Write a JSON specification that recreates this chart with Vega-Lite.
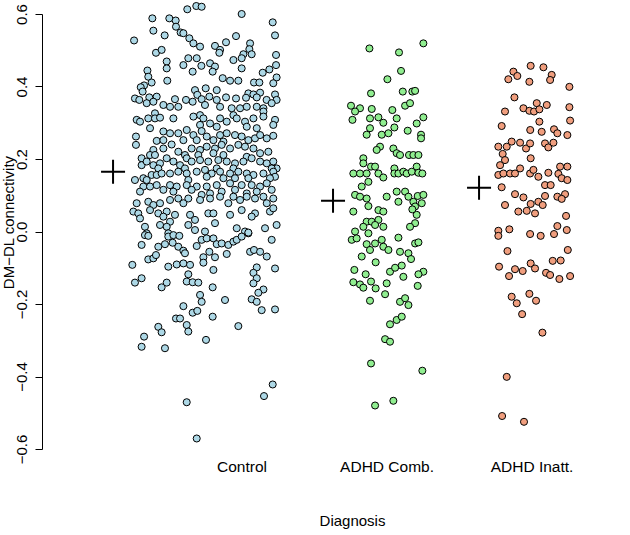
{
"$schema": "https://vega.github.io/schema/vega-lite/v6.json",
"width": 588,
"height": 435,
"autosize": {"type": "none"},
"padding": {"left": 42, "top": 14, "right": 0, "bottom": 86},
"config": {"view": {"stroke": null}, "font": "Liberation Sans"},
"datasets": {
"means": [
{"g": "Control", "x": 0.114, "y": 0.165},
{"g": "ADHD Comb.", "x": 1.631, "y": 0.085},
{"g": "ADHD Inatt.", "x": 2.638, "y": 0.121}
],
"pts": [
{"g":"Control","x":0.626,"y":0.613},{"g":"Control","x":0.688,"y":0.622},{"g":"Control","x":0.725,"y":0.620},{"g":"Control","x":1.001,"y":0.600},{"g":"Control","x":0.385,"y":0.588},{"g":"Control","x":0.502,"y":0.588},{"g":"Control","x":0.546,"y":0.582},{"g":"Control","x":1.215,"y":0.577},{"g":"Control","x":0.392,"y":0.554},{"g":"Control","x":0.548,"y":0.565},
{"g":"Control","x":0.580,"y":0.549},{"g":"Control","x":0.599,"y":0.547},{"g":"Control","x":0.470,"y":0.541},{"g":"Control","x":0.640,"y":0.533},{"g":"Control","x":0.962,"y":0.539},{"g":"Control","x":1.231,"y":0.541},{"g":"Control","x":0.259,"y":0.527},{"g":"Control","x":0.668,"y":0.519},{"g":"Control","x":0.714,"y":0.510},{"g":"Control","x":0.817,"y":0.512},
{"g":"Control","x":0.893,"y":0.522},{"g":"Control","x":1.059,"y":0.519},{"g":"Control","x":0.852,"y":0.501},{"g":"Control","x":0.847,"y":0.493},{"g":"Control","x":1.054,"y":0.503},{"g":"Control","x":0.410,"y":0.493},{"g":"Control","x":0.449,"y":0.501},{"g":"Control","x":1.013,"y":0.489},{"g":"Control","x":1.070,"y":0.489},{"g":"Control","x":1.238,"y":0.487},
{"g":"Control","x":0.484,"y":0.469},{"g":"Control","x":0.633,"y":0.478},{"g":"Control","x":0.691,"y":0.478},{"g":"Control","x":0.944,"y":0.473},{"g":"Control","x":1.001,"y":0.478},{"g":"Control","x":0.783,"y":0.464},{"g":"Control","x":0.817,"y":0.455},{"g":"Control","x":0.599,"y":0.459},{"g":"Control","x":1.238,"y":0.459},{"g":"Control","x":0.484,"y":0.450},
{"g":"Control","x":0.351,"y":0.444},{"g":"Control","x":0.723,"y":0.457},{"g":"Control","x":1.001,"y":0.450},{"g":"Control","x":1.192,"y":0.447},{"g":"Control","x":1.146,"y":0.438},{"g":"Control","x":0.663,"y":0.441},{"g":"Control","x":0.801,"y":0.441},{"g":"Control","x":0.357,"y":0.427},{"g":"Control","x":1.242,"y":0.425},{"g":"Control","x":1.219,"y":0.409},
{"g":"Control","x":0.488,"y":0.416},{"g":"Control","x":0.870,"y":0.423},{"g":"Control","x":0.921,"y":0.416},{"g":"Control","x":0.978,"y":0.416},{"g":"Control","x":1.086,"y":0.411},{"g":"Control","x":1.123,"y":0.411},{"g":"Control","x":0.328,"y":0.403},{"g":"Control","x":0.380,"y":0.411},{"g":"Control","x":0.305,"y":0.398},{"g":"Control","x":0.318,"y":0.386},
{"g":"Control","x":0.753,"y":0.395},{"g":"Control","x":0.679,"y":0.390},{"g":"Control","x":0.829,"y":0.390},{"g":"Control","x":1.047,"y":0.381},{"g":"Control","x":1.082,"y":0.378},{"g":"Control","x":1.128,"y":0.383},{"g":"Control","x":1.231,"y":0.378},{"g":"Control","x":0.265,"y":0.367},{"g":"Control","x":0.295,"y":0.363},{"g":"Control","x":0.364,"y":0.370},
{"g":"Control","x":0.415,"y":0.372},{"g":"Control","x":0.541,"y":0.365},{"g":"Control","x":0.617,"y":0.363},{"g":"Control","x":0.695,"y":0.377},{"g":"Control","x":0.778,"y":0.372},{"g":"Control","x":0.829,"y":0.363},{"g":"Control","x":0.893,"y":0.370},{"g":"Control","x":0.962,"y":0.367},{"g":"Control","x":1.031,"y":0.369},{"g":"Control","x":1.105,"y":0.370},
{"g":"Control","x":1.173,"y":0.363},{"g":"Control","x":1.242,"y":0.363},{"g":"Control","x":0.346,"y":0.354},{"g":"Control","x":0.392,"y":0.358},{"g":"Control","x":0.663,"y":0.358},{"g":"Control","x":0.725,"y":0.365},{"g":"Control","x":0.461,"y":0.349},{"g":"Control","x":0.507,"y":0.344},{"g":"Control","x":0.564,"y":0.344},{"g":"Control","x":0.748,"y":0.349},
{"g":"Control","x":0.852,"y":0.344},{"g":"Control","x":0.932,"y":0.340},{"g":"Control","x":0.990,"y":0.340},{"g":"Control","x":1.036,"y":0.344},{"g":"Control","x":1.105,"y":0.344},{"g":"Control","x":1.151,"y":0.340},{"g":"Control","x":1.208,"y":0.354},{"g":"Control","x":0.403,"y":0.326},{"g":"Control","x":0.714,"y":0.321},{"g":"Control","x":0.944,"y":0.321},
{"g":"Control","x":1.151,"y":0.331},
{"g":"Control","x":0.277,"y":0.308},{"g":"Control","x":0.300,"y":0.303},{"g":"Control","x":0.357,"y":0.312},{"g":"Control","x":0.403,"y":0.312},{"g":"Control","x":0.438,"y":0.314},{"g":"Control","x":0.530,"y":0.312},{"g":"Control","x":0.668,"y":0.317},{"g":"Control","x":0.737,"y":0.312},{"g":"Control","x":0.783,"y":0.298},{"g":"Control","x":0.852,"y":0.312},
{"g":"Control","x":0.898,"y":0.303},{"g":"Control","x":0.967,"y":0.312},{"g":"Control","x":1.024,"y":0.303},{"g":"Control","x":1.082,"y":0.312},{"g":"Control","x":1.151,"y":0.317},{"g":"Control","x":1.231,"y":0.308},{"g":"Control","x":1.219,"y":0.294},{"g":"Control","x":0.369,"y":0.285},{"g":"Control","x":0.714,"y":0.294},{"g":"Control","x":0.829,"y":0.289},
{"g":"Control","x":1.105,"y":0.285},{"g":"Control","x":1.036,"y":0.289},{"g":"Control","x":0.272,"y":0.262},{"g":"Control","x":0.272,"y":0.239},{"g":"Control","x":0.415,"y":0.250},{"g":"Control","x":0.461,"y":0.276},{"g":"Control","x":0.507,"y":0.271},{"g":"Control","x":0.564,"y":0.271},{"g":"Control","x":0.622,"y":0.280},{"g":"Control","x":0.668,"y":0.266},
{"g":"Control","x":0.725,"y":0.277},{"g":"Control","x":0.760,"y":0.262},{"g":"Control","x":0.806,"y":0.252},{"g":"Control","x":0.852,"y":0.266},{"g":"Control","x":0.898,"y":0.271},{"g":"Control","x":0.955,"y":0.266},{"g":"Control","x":1.001,"y":0.262},{"g":"Control","x":1.047,"y":0.252},{"g":"Control","x":1.093,"y":0.257},{"g":"Control","x":1.128,"y":0.266},
{"g":"Control","x":1.174,"y":0.257},{"g":"Control","x":1.219,"y":0.264},{"g":"Control","x":0.461,"y":0.252},{"g":"Control","x":0.599,"y":0.252},{"g":"Control","x":0.691,"y":0.252},{"g":"Control","x":0.875,"y":0.248},{"g":"Control","x":0.392,"y":0.225},{"g":"Control","x":0.461,"y":0.229},{"g":"Control","x":0.518,"y":0.240},{"g":"Control","x":0.564,"y":0.220},
{"g":"Control","x":0.610,"y":0.211},{"g":"Control","x":0.656,"y":0.229},{"g":"Control","x":0.714,"y":0.225},{"g":"Control","x":0.760,"y":0.234},{"g":"Control","x":0.817,"y":0.229},{"g":"Control","x":0.863,"y":0.239},{"g":"Control","x":0.921,"y":0.229},{"g":"Control","x":0.978,"y":0.239},{"g":"Control","x":1.024,"y":0.234},{"g":"Control","x":1.082,"y":0.229},
{"g":"Control","x":1.128,"y":0.216},{"g":"Control","x":1.185,"y":0.220},{"g":"Control","x":0.369,"y":0.211},{"g":"Control","x":0.403,"y":0.211},{"g":"Control","x":0.484,"y":0.202},{"g":"Control","x":0.622,"y":0.202},{"g":"Control","x":0.702,"y":0.211},{"g":"Control","x":0.806,"y":0.216},{"g":"Control","x":0.875,"y":0.211},{"g":"Control","x":1.036,"y":0.206},
{"g":"Control","x":0.311,"y":0.202},{"g":"Control","x":0.311,"y":0.183},{"g":"Control","x":0.346,"y":0.193},{"g":"Control","x":0.392,"y":0.183},{"g":"Control","x":0.438,"y":0.188},{"g":"Control","x":0.530,"y":0.193},{"g":"Control","x":0.576,"y":0.183},{"g":"Control","x":0.656,"y":0.193},{"g":"Control","x":0.714,"y":0.197},{"g":"Control","x":0.771,"y":0.193},
{"g":"Control","x":0.840,"y":0.197},{"g":"Control","x":0.898,"y":0.193},{"g":"Control","x":0.955,"y":0.188},{"g":"Control","x":1.013,"y":0.193},{"g":"Control","x":1.070,"y":0.202},{"g":"Control","x":1.128,"y":0.193},{"g":"Control","x":1.174,"y":0.188},{"g":"Control","x":1.219,"y":0.193},{"g":"Control","x":1.242,"y":0.174},{"g":"Control","x":0.426,"y":0.174},
{"g":"Control","x":0.610,"y":0.174},{"g":"Control","x":0.829,"y":0.174},{"g":"Control","x":0.944,"y":0.174},{"g":"Control","x":1.208,"y":0.174},{"g":"Control","x":0.265,"y":0.142},{"g":"Control","x":0.323,"y":0.147},{"g":"Control","x":0.380,"y":0.156},{"g":"Control","x":0.415,"y":0.156},{"g":"Control","x":0.449,"y":0.160},{"g":"Control","x":0.507,"y":0.160},
{"g":"Control","x":0.564,"y":0.165},{"g":"Control","x":0.622,"y":0.160},{"g":"Control","x":0.691,"y":0.165},{"g":"Control","x":0.748,"y":0.170},{"g":"Control","x":0.794,"y":0.160},{"g":"Control","x":0.852,"y":0.165},{"g":"Control","x":0.921,"y":0.160},{"g":"Control","x":0.978,"y":0.165},{"g":"Control","x":1.036,"y":0.160},{"g":"Control","x":1.082,"y":0.156},
{"g":"Control","x":1.151,"y":0.160},{"g":"Control","x":1.219,"y":0.165},{"g":"Control","x":1.231,"y":0.151},{"g":"Control","x":0.346,"y":0.142},{"g":"Control","x":0.633,"y":0.142},{"g":"Control","x":0.760,"y":0.151},{"g":"Control","x":0.875,"y":0.147},{"g":"Control","x":0.955,"y":0.147},{"g":"Control","x":1.047,"y":0.147},{"g":"Control","x":1.196,"y":0.147},
{"g":"Control","x":0.323,"y":0.124},{"g":"Control","x":0.369,"y":0.124},{"g":"Control","x":0.415,"y":0.128},{"g":"Control","x":0.507,"y":0.128},{"g":"Control","x":0.553,"y":0.124},{"g":"Control","x":0.622,"y":0.128},{"g":"Control","x":0.691,"y":0.124},{"g":"Control","x":0.760,"y":0.124},{"g":"Control","x":0.829,"y":0.128},{"g":"Control","x":0.921,"y":0.133},
{"g":"Control","x":1.001,"y":0.128},{"g":"Control","x":1.070,"y":0.128},{"g":"Control","x":1.128,"y":0.124},{"g":"Control","x":1.174,"y":0.133},{"g":"Control","x":0.300,"y":0.110},{"g":"Control","x":0.461,"y":0.115},{"g":"Control","x":0.530,"y":0.110},{"g":"Control","x":0.656,"y":0.115},{"g":"Control","x":0.725,"y":0.101},{"g":"Control","x":0.783,"y":0.105},
{"g":"Control","x":0.863,"y":0.110},{"g":"Control","x":0.955,"y":0.115},{"g":"Control","x":1.036,"y":0.105},{"g":"Control","x":1.105,"y":0.110},{"g":"Control","x":1.208,"y":0.115},{"g":"Control","x":0.277,"y":0.078},{"g":"Control","x":0.357,"y":0.082},{"g":"Control","x":0.392,"y":0.073},{"g":"Control","x":0.507,"y":0.087},{"g":"Control","x":0.564,"y":0.091},
{"g":"Control","x":0.633,"y":0.091},{"g":"Control","x":0.714,"y":0.087},{"g":"Control","x":0.783,"y":0.091},{"g":"Control","x":0.852,"y":0.096},{"g":"Control","x":0.944,"y":0.096},{"g":"Control","x":0.990,"y":0.087},{"g":"Control","x":1.036,"y":0.096},{"g":"Control","x":1.093,"y":0.091},{"g":"Control","x":1.151,"y":0.096},{"g":"Control","x":1.219,"y":0.091},
{"g":"Control","x":1.174,"y":0.078},{"g":"Control","x":0.438,"y":0.078},{"g":"Control","x":0.599,"y":0.078},{"g":"Control","x":0.909,"y":0.078},{"g":"Control","x":0.254,"y":0.055},{"g":"Control","x":0.288,"y":0.050},{"g":"Control","x":0.369,"y":0.059},{"g":"Control","x":0.426,"y":0.050},{"g":"Control","x":0.484,"y":0.055},{"g":"Control","x":0.541,"y":0.046},
{"g":"Control","x":0.645,"y":0.046},{"g":"Control","x":0.771,"y":0.050},{"g":"Control","x":0.806,"y":0.050},{"g":"Control","x":0.921,"y":0.046},{"g":"Control","x":1.001,"y":0.059},{"g":"Control","x":1.093,"y":0.050},{"g":"Control","x":1.196,"y":0.055},{"g":"Control","x":1.219,"y":0.064},{"g":"Control","x":0.300,"y":0.036},{"g":"Control","x":0.461,"y":0.041},
{"g":"Control","x":0.507,"y":0.027},{"g":"Control","x":0.679,"y":0.032},{"g":"Control","x":0.817,"y":0.023},{"g":"Control","x":1.070,"y":0.041},{"g":"Control","x":0.334,"y":0.013},{"g":"Control","x":0.438,"y":0.018},{"g":"Control","x":0.484,"y":0.013},{"g":"Control","x":0.633,"y":0.018},{"g":"Control","x":0.679,"y":0.004},{"g":"Control","x":0.748,"y":0.000},
{"g":"Control","x":0.967,"y":0.009},{"g":"Control","x":1.024,"y":0.000},{"g":"Control","x":1.047,"y":-0.005},{"g":"Control","x":1.162,"y":0.009},{"g":"Control","x":1.242,"y":0.018},{"g":"Control","x":0.346,"y":-0.005},{"g":"Control","x":0.495,"y":-0.005},
{"g":"Control","x":0.334,"y":-0.010},{"g":"Control","x":0.357,"y":-0.012},{"g":"Control","x":0.495,"y":-0.014},{"g":"Control","x":0.530,"y":-0.010},{"g":"Control","x":0.571,"y":-0.012},{"g":"Control","x":0.311,"y":-0.037},{"g":"Control","x":0.426,"y":-0.042},{"g":"Control","x":0.472,"y":-0.035},{"g":"Control","x":0.525,"y":-0.031},{"g":"Control","x":0.564,"y":-0.042},
{"g":"Control","x":0.599,"y":-0.053},{"g":"Control","x":0.610,"y":-0.060},{"g":"Control","x":0.691,"y":-0.040},{"g":"Control","x":0.725,"y":-0.023},{"g":"Control","x":0.760,"y":-0.019},{"g":"Control","x":0.806,"y":-0.019},{"g":"Control","x":0.829,"y":-0.035},{"g":"Control","x":0.863,"y":-0.033},{"g":"Control","x":0.909,"y":-0.037},{"g":"Control","x":0.944,"y":-0.028},
{"g":"Control","x":0.967,"y":-0.023},{"g":"Control","x":1.001,"y":-0.014},{"g":"Control","x":1.047,"y":-0.003},{"g":"Control","x":1.208,"y":-0.023},{"g":"Control","x":0.357,"y":-0.077},{"g":"Control","x":0.392,"y":-0.074},{"g":"Control","x":0.410,"y":-0.065},{"g":"Control","x":0.737,"y":-0.071},{"g":"Control","x":0.737,"y":-0.086},{"g":"Control","x":0.778,"y":-0.056},
{"g":"Control","x":0.817,"y":-0.071},{"g":"Control","x":0.898,"y":-0.062},{"g":"Control","x":1.059,"y":-0.056},{"g":"Control","x":1.086,"y":-0.051},{"g":"Control","x":1.128,"y":-0.056},{"g":"Control","x":1.174,"y":-0.069},{"g":"Control","x":0.247,"y":-0.092},{"g":"Control","x":0.495,"y":-0.097},{"g":"Control","x":0.553,"y":-0.091},{"g":"Control","x":0.599,"y":-0.088},
{"g":"Control","x":0.645,"y":-0.092},{"g":"Control","x":0.806,"y":-0.106},{"g":"Control","x":1.105,"y":-0.099},{"g":"Control","x":1.082,"y":-0.114},{"g":"Control","x":1.105,"y":-0.129},{"g":"Control","x":1.082,"y":-0.143},{"g":"Control","x":1.231,"y":-0.102},{"g":"Control","x":0.265,"y":-0.141},{"g":"Control","x":0.311,"y":-0.129},{"g":"Control","x":0.449,"y":-0.154},
{"g":"Control","x":0.484,"y":-0.141},{"g":"Control","x":0.622,"y":-0.138},{"g":"Control","x":0.663,"y":-0.140},{"g":"Control","x":0.702,"y":-0.141},{"g":"Control","x":0.633,"y":-0.118},{"g":"Control","x":0.801,"y":-0.154},{"g":"Control","x":1.151,"y":-0.160},{"g":"Control","x":1.116,"y":-0.169},{"g":"Control","x":0.714,"y":-0.175},{"g":"Control","x":0.725,"y":-0.194},
{"g":"Control","x":0.599,"y":-0.206},{"g":"Control","x":0.886,"y":-0.189},{"g":"Control","x":1.070,"y":-0.187},{"g":"Control","x":1.105,"y":-0.194},{"g":"Control","x":1.139,"y":-0.217},{"g":"Control","x":1.231,"y":-0.215},{"g":"Control","x":0.663,"y":-0.224},{"g":"Control","x":0.695,"y":-0.219},{"g":"Control","x":0.548,"y":-0.240},{"g":"Control","x":0.576,"y":-0.240},
{"g":"Control","x":0.801,"y":-0.235},{"g":"Control","x":0.622,"y":-0.258},{"g":"Control","x":0.633,"y":-0.276},{"g":"Control","x":0.426,"y":-0.263},{"g":"Control","x":0.449,"y":-0.278},{"g":"Control","x":0.978,"y":-0.261},{"g":"Control","x":0.328,"y":-0.290},{"g":"Control","x":0.311,"y":-0.318},{"g":"Control","x":0.755,"y":-0.299},{"g":"Control","x":0.472,"y":-0.322},
{"g":"Control","x":1.215,"y":-0.422},{"g":"Control","x":1.155,"y":-0.454},{"g":"Control","x":0.622,"y":-0.471},{"g":"Control","x":0.691,"y":-0.571},
{"g":"ADHD Comb.","x":1.882,"y":0.505},{"g":"ADHD Comb.","x":2.254,"y":0.519},{"g":"ADHD Comb.","x":2.086,"y":0.494},{"g":"ADHD Comb.","x":2.100,"y":0.443},{"g":"ADHD Comb.","x":2.006,"y":0.420},{"g":"ADHD Comb.","x":1.893,"y":0.381},{"g":"ADHD Comb.","x":2.112,"y":0.386},{"g":"ADHD Comb.","x":2.178,"y":0.386},{"g":"ADHD Comb.","x":2.197,"y":0.388},{"g":"ADHD Comb.","x":1.755,"y":0.347},
{"g":"ADHD Comb.","x":1.817,"y":0.340},{"g":"ADHD Comb.","x":1.783,"y":0.331},{"g":"ADHD Comb.","x":1.765,"y":0.308},{"g":"ADHD Comb.","x":1.898,"y":0.338},{"g":"ADHD Comb.","x":2.040,"y":0.335},{"g":"ADHD Comb.","x":2.128,"y":0.347},{"g":"ADHD Comb.","x":2.162,"y":0.354},{"g":"ADHD Comb.","x":1.886,"y":0.312},{"g":"ADHD Comb.","x":1.944,"y":0.315},{"g":"ADHD Comb.","x":1.978,"y":0.300},
{"g":"ADHD Comb.","x":2.070,"y":0.312},{"g":"ADHD Comb.","x":2.254,"y":0.315},{"g":"ADHD Comb.","x":2.208,"y":0.298},{"g":"ADHD Comb.","x":1.886,"y":0.285},{"g":"ADHD Comb.","x":1.863,"y":0.267},{"g":"ADHD Comb.","x":1.967,"y":0.267},{"g":"ADHD Comb.","x":2.013,"y":0.271},{"g":"ADHD Comb.","x":2.054,"y":0.287},{"g":"ADHD Comb.","x":2.146,"y":0.278},{"g":"ADHD Comb.","x":2.238,"y":0.267},
{"g":"ADHD Comb.","x":2.238,"y":0.257},{"g":"ADHD Comb.","x":1.955,"y":0.234},{"g":"ADHD Comb.","x":1.932,"y":0.225},{"g":"ADHD Comb.","x":2.047,"y":0.229},{"g":"ADHD Comb.","x":2.070,"y":0.216},{"g":"ADHD Comb.","x":2.093,"y":0.211},{"g":"ADHD Comb.","x":2.155,"y":0.211},{"g":"ADHD Comb.","x":2.185,"y":0.211},{"g":"ADHD Comb.","x":2.220,"y":0.211},{"g":"ADHD Comb.","x":1.840,"y":0.202},
{"g":"ADHD Comb.","x":1.840,"y":0.188},{"g":"ADHD Comb.","x":1.771,"y":0.160},{"g":"ADHD Comb.","x":1.817,"y":0.160},{"g":"ADHD Comb.","x":1.863,"y":0.160},{"g":"ADHD Comb.","x":1.893,"y":0.179},{"g":"ADHD Comb.","x":1.921,"y":0.179},{"g":"ADHD Comb.","x":1.944,"y":0.160},{"g":"ADHD Comb.","x":1.978,"y":0.149},{"g":"ADHD Comb.","x":2.054,"y":0.174},{"g":"ADHD Comb.","x":2.054,"y":0.160},
{"g":"ADHD Comb.","x":2.082,"y":0.160},{"g":"ADHD Comb.","x":2.116,"y":0.165},{"g":"ADHD Comb.","x":2.139,"y":0.160},{"g":"ADHD Comb.","x":2.174,"y":0.165},{"g":"ADHD Comb.","x":2.208,"y":0.179},{"g":"ADHD Comb.","x":2.220,"y":0.162},{"g":"ADHD Comb.","x":2.247,"y":0.160},{"g":"ADHD Comb.","x":1.875,"y":0.137},{"g":"ADHD Comb.","x":1.829,"y":0.124},{"g":"ADHD Comb.","x":1.783,"y":0.101},
{"g":"ADHD Comb.","x":1.817,"y":0.096},{"g":"ADHD Comb.","x":1.863,"y":0.091},{"g":"ADHD Comb.","x":1.875,"y":0.070},{"g":"ADHD Comb.","x":1.944,"y":0.059},{"g":"ADHD Comb.","x":1.978,"y":0.055},{"g":"ADHD Comb.","x":2.001,"y":0.096},{"g":"ADHD Comb.","x":2.070,"y":0.110},{"g":"ADHD Comb.","x":2.128,"y":0.110},{"g":"ADHD Comb.","x":2.082,"y":0.082},{"g":"ADHD Comb.","x":2.151,"y":0.096},
{"g":"ADHD Comb.","x":2.185,"y":0.082},{"g":"ADHD Comb.","x":2.215,"y":0.098},{"g":"ADHD Comb.","x":2.254,"y":0.101},{"g":"ADHD Comb.","x":2.197,"y":0.069},{"g":"ADHD Comb.","x":2.243,"y":0.078},{"g":"ADHD Comb.","x":2.208,"y":0.046},{"g":"ADHD Comb.","x":1.771,"y":0.055},{"g":"ADHD Comb.","x":2.178,"y":0.061},{"g":"ADHD Comb.","x":1.863,"y":0.027},{"g":"ADHD Comb.","x":1.898,"y":0.027},
{"g":"ADHD Comb.","x":1.944,"y":0.032},{"g":"ADHD Comb.","x":1.840,"y":0.013},{"g":"ADHD Comb.","x":1.921,"y":0.018},{"g":"ADHD Comb.","x":1.978,"y":0.013},{"g":"ADHD Comb.","x":2.197,"y":0.023},{"g":"ADHD Comb.","x":2.162,"y":0.013},{"g":"ADHD Comb.","x":1.783,"y":0.000},{"g":"ADHD Comb.","x":1.875,"y":-0.005},
{"g":"ADHD Comb.","x":1.760,"y":-0.023},{"g":"ADHD Comb.","x":1.794,"y":-0.019},{"g":"ADHD Comb.","x":1.863,"y":-0.035},{"g":"ADHD Comb.","x":1.886,"y":-0.051},{"g":"ADHD Comb.","x":1.921,"y":-0.033},{"g":"ADHD Comb.","x":1.967,"y":-0.023},{"g":"ADHD Comb.","x":1.978,"y":-0.042},{"g":"ADHD Comb.","x":2.013,"y":-0.051},{"g":"ADHD Comb.","x":2.082,"y":-0.017},{"g":"ADHD Comb.","x":1.829,"y":-0.069},
{"g":"ADHD Comb.","x":1.925,"y":-0.085},{"g":"ADHD Comb.","x":2.093,"y":-0.056},{"g":"ADHD Comb.","x":2.151,"y":-0.060},{"g":"ADHD Comb.","x":2.197,"y":-0.033},{"g":"ADHD Comb.","x":2.220,"y":-0.030},{"g":"ADHD Comb.","x":2.169,"y":-0.076},{"g":"ADHD Comb.","x":1.778,"y":-0.106},{"g":"ADHD Comb.","x":1.856,"y":-0.118},{"g":"ADHD Comb.","x":2.024,"y":-0.111},{"g":"ADHD Comb.","x":2.059,"y":-0.100},
{"g":"ADHD Comb.","x":2.105,"y":-0.094},{"g":"ADHD Comb.","x":2.116,"y":-0.125},{"g":"ADHD Comb.","x":2.254,"y":-0.111},{"g":"ADHD Comb.","x":2.220,"y":-0.118},{"g":"ADHD Comb.","x":1.771,"y":-0.140},{"g":"ADHD Comb.","x":1.817,"y":-0.146},{"g":"ADHD Comb.","x":1.840,"y":-0.155},{"g":"ADHD Comb.","x":1.893,"y":-0.138},{"g":"ADHD Comb.","x":1.925,"y":-0.157},{"g":"ADHD Comb.","x":2.001,"y":-0.143},
{"g":"ADHD Comb.","x":1.990,"y":-0.173},{"g":"ADHD Comb.","x":2.215,"y":-0.150},{"g":"ADHD Comb.","x":1.886,"y":-0.191},{"g":"ADHD Comb.","x":2.093,"y":-0.194},{"g":"ADHD Comb.","x":2.128,"y":-0.184},{"g":"ADHD Comb.","x":2.151,"y":-0.203},{"g":"ADHD Comb.","x":2.024,"y":-0.256},{"g":"ADHD Comb.","x":2.070,"y":-0.244},{"g":"ADHD Comb.","x":2.105,"y":-0.235},{"g":"ADHD Comb.","x":1.990,"y":-0.297},
{"g":"ADHD Comb.","x":2.024,"y":-0.304},{"g":"ADHD Comb.","x":1.893,"y":-0.364},{"g":"ADHD Comb.","x":2.247,"y":-0.384},{"g":"ADHD Comb.","x":1.921,"y":-0.480},{"g":"ADHD Comb.","x":2.047,"y":-0.467},
{"g":"ADHD Inatt.","x":2.994,"y":0.457},{"g":"ADHD Inatt.","x":3.082,"y":0.453},{"g":"ADHD Inatt.","x":2.875,"y":0.441},{"g":"ADHD Inatt.","x":2.840,"y":0.420},{"g":"ADHD Inatt.","x":2.902,"y":0.429},{"g":"ADHD Inatt.","x":2.985,"y":0.413},{"g":"ADHD Inatt.","x":3.139,"y":0.432},{"g":"ADHD Inatt.","x":3.128,"y":0.418},{"g":"ADHD Inatt.","x":3.261,"y":0.399},{"g":"ADHD Inatt.","x":2.882,"y":0.370},
{"g":"ADHD Inatt.","x":2.817,"y":0.331},{"g":"ADHD Inatt.","x":2.944,"y":0.340},{"g":"ADHD Inatt.","x":2.985,"y":0.333},{"g":"ADHD Inatt.","x":3.017,"y":0.331},{"g":"ADHD Inatt.","x":3.036,"y":0.354},{"g":"ADHD Inatt.","x":3.054,"y":0.337},{"g":"ADHD Inatt.","x":3.105,"y":0.349},{"g":"ADHD Inatt.","x":3.261,"y":0.343},{"g":"ADHD Inatt.","x":3.266,"y":0.306},{"g":"ADHD Inatt.","x":3.054,"y":0.303},
{"g":"ADHD Inatt.","x":2.794,"y":0.291},{"g":"ADHD Inatt.","x":2.991,"y":0.280},{"g":"ADHD Inatt.","x":3.070,"y":0.275},{"g":"ADHD Inatt.","x":3.155,"y":0.282},{"g":"ADHD Inatt.","x":3.178,"y":0.271},{"g":"ADHD Inatt.","x":3.247,"y":0.266},{"g":"ADHD Inatt.","x":2.771,"y":0.234},{"g":"ADHD Inatt.","x":2.829,"y":0.234},{"g":"ADHD Inatt.","x":2.863,"y":0.248},{"g":"ADHD Inatt.","x":2.921,"y":0.245},
{"g":"ADHD Inatt.","x":2.962,"y":0.229},{"g":"ADHD Inatt.","x":2.990,"y":0.243},{"g":"ADHD Inatt.","x":3.093,"y":0.243},{"g":"ADHD Inatt.","x":3.116,"y":0.232},{"g":"ADHD Inatt.","x":3.151,"y":0.245},{"g":"ADHD Inatt.","x":2.801,"y":0.214},{"g":"ADHD Inatt.","x":2.817,"y":0.197},{"g":"ADHD Inatt.","x":2.994,"y":0.202},{"g":"ADHD Inatt.","x":2.783,"y":0.183},{"g":"ADHD Inatt.","x":2.771,"y":0.156},
{"g":"ADHD Inatt.","x":2.806,"y":0.160},{"g":"ADHD Inatt.","x":2.852,"y":0.160},{"g":"ADHD Inatt.","x":2.886,"y":0.160},{"g":"ADHD Inatt.","x":2.921,"y":0.174},{"g":"ADHD Inatt.","x":2.990,"y":0.160},{"g":"ADHD Inatt.","x":3.013,"y":0.170},{"g":"ADHD Inatt.","x":3.047,"y":0.151},{"g":"ADHD Inatt.","x":3.116,"y":0.162},{"g":"ADHD Inatt.","x":3.197,"y":0.179},{"g":"ADHD Inatt.","x":3.247,"y":0.179},
{"g":"ADHD Inatt.","x":3.185,"y":0.159},{"g":"ADHD Inatt.","x":3.208,"y":0.147},{"g":"ADHD Inatt.","x":3.247,"y":0.142},{"g":"ADHD Inatt.","x":2.794,"y":0.122},{"g":"ADHD Inatt.","x":3.093,"y":0.128},{"g":"ADHD Inatt.","x":3.132,"y":0.128},{"g":"ADHD Inatt.","x":2.886,"y":0.103},{"g":"ADHD Inatt.","x":2.944,"y":0.094},{"g":"ADHD Inatt.","x":3.093,"y":0.098},{"g":"ADHD Inatt.","x":3.178,"y":0.096},
{"g":"ADHD Inatt.","x":3.231,"y":0.103},{"g":"ADHD Inatt.","x":3.208,"y":0.090},{"g":"ADHD Inatt.","x":2.817,"y":0.073},{"g":"ADHD Inatt.","x":2.909,"y":0.055},{"g":"ADHD Inatt.","x":2.967,"y":0.057},{"g":"ADHD Inatt.","x":2.994,"y":0.076},{"g":"ADHD Inatt.","x":3.024,"y":0.050},{"g":"ADHD Inatt.","x":3.047,"y":0.082},{"g":"ADHD Inatt.","x":3.077,"y":0.073},{"g":"ADHD Inatt.","x":3.238,"y":0.043},
{"g":"ADHD Inatt.","x":2.771,"y":0.002},{"g":"ADHD Inatt.","x":2.771,"y":-0.012},{"g":"ADHD Inatt.","x":2.847,"y":0.006},{"g":"ADHD Inatt.","x":3.178,"y":0.015},{"g":"ADHD Inatt.","x":3.243,"y":0.004},{"g":"ADHD Inatt.","x":2.990,"y":-0.007},{"g":"ADHD Inatt.","x":3.063,"y":-0.012},{"g":"ADHD Inatt.","x":3.155,"y":-0.007},
{"g":"ADHD Inatt.","x":2.834,"y":-0.054},{"g":"ADHD Inatt.","x":3.250,"y":-0.051},{"g":"ADHD Inatt.","x":2.776,"y":-0.097},{"g":"ADHD Inatt.","x":2.845,"y":-0.123},{"g":"ADHD Inatt.","x":2.886,"y":-0.104},{"g":"ADHD Inatt.","x":2.939,"y":-0.109},{"g":"ADHD Inatt.","x":2.994,"y":-0.088},{"g":"ADHD Inatt.","x":3.024,"y":-0.102},{"g":"ADHD Inatt.","x":3.100,"y":-0.114},{"g":"ADHD Inatt.","x":3.128,"y":-0.120},
{"g":"ADHD Inatt.","x":3.146,"y":-0.081},{"g":"ADHD Inatt.","x":3.201,"y":-0.080},{"g":"ADHD Inatt.","x":3.192,"y":-0.131},{"g":"ADHD Inatt.","x":3.266,"y":-0.123},{"g":"ADHD Inatt.","x":2.863,"y":-0.180},{"g":"ADHD Inatt.","x":2.898,"y":-0.198},{"g":"ADHD Inatt.","x":2.985,"y":-0.172},{"g":"ADHD Inatt.","x":3.031,"y":-0.191},{"g":"ADHD Inatt.","x":2.935,"y":-0.228},{"g":"ADHD Inatt.","x":3.075,"y":-0.279},
{"g":"ADHD Inatt.","x":2.829,"y":-0.401},{"g":"ADHD Inatt.","x":2.797,"y":-0.509},{"g":"ADHD Inatt.","x":2.948,"y":-0.525}
]
},
"layer": [
{
"data": {"name": "pts"},
"mark": {"type": "circle", "size": 50, "stroke": "black", "strokeWidth": 1, "opacity": 1},
"encoding": {
"x": {"field": "x", "type": "quantitative",
"scale": {"domain": [-0.376, 3.679], "nice": false, "zero": false},
"axis": {"values": [1, 2, 3], "labelExpr": "datum.value == 1 ? 'Control' : datum.value == 2 ? 'ADHD Comb.' : 'ADHD Inatt.'",
"ticks": false, "domain": false, "grid": false, "labelPadding": 10, "labelFontSize": 15.5, "labelColor": "black",
"title": "Diagnosis", "titleFontSize": 15, "titleFontWeight": "normal", "titleColor": "black",
"titleX": 310, "titleY": 71, "titleBaseline": "middle", "titleAlign": "center", "labelFlush": false, "labelOverlap": false}},
"y": {"field": "y", "type": "quantitative",
"scale": {"domain": [-0.6, 0.6], "nice": false, "zero": false},
"axis": {"values": [-0.6, -0.4, -0.2, 0, 0.2, 0.4, 0.6], "format": ".1f", "grid": false,
"tickSize": 7, "tickColor": "black", "domainColor": "black", "labelAngle": -90, "labelAlign": "center", "labelBaseline": "bottom",
"labelPadding": 6, "labelFontSize": 15, "labelColor": "black", "labelFlush": false, "labelOverlap": false,
"title": "DM−DL connectivity", "titleFontSize": 15, "titleFontWeight": "normal", "titleColor": "black",
"titleX": -34, "titleY": 208, "titleAngle": -90, "titleBaseline": "middle", "titleAlign": "center"}},
"color": {"field": "g", "type": "nominal",
"scale": {"domain": ["Control", "ADHD Comb.", "ADHD Inatt."], "range": ["#ADD8E6", "#90EE90", "#F09E7E"]},
"legend": null}
}
},
{
"mark": {"type": "rule", "color": "#8c8c8c", "strokeWidth": 2},
"encoding": {"y": {"datum": 0, "type": "quantitative"}}
},
{
"data": {"name": "means"},
"mark": {"type": "point", "shape": "M-1,0L1,0M0,-1L0,1", "filled": false, "stroke": "black", "strokeWidth": 2, "size": 576, "opacity": 1},
"encoding": {
"x": {"field": "x", "type": "quantitative"},
"y": {"field": "y", "type": "quantitative"}
}
}
]
}
